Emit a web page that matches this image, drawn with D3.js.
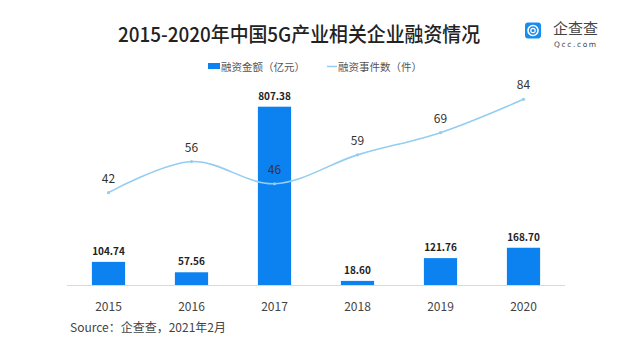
<!DOCTYPE html>
<html><head><meta charset="utf-8">
<script src="https://cdn.jsdelivr.net/npm/d3@7/dist/d3.min.js"></script>
<style>
html,body{margin:0;padding:0;background:#fff;}
svg{display:block;font-family:"Noto Sans CJK SC","Noto Sans",sans-serif;}
</style></head>
<body><svg id="c" width="630" height="340"></svg>
<script>
const years = ["2015","2016","2017","2018","2019","2020"];
const amounts = [104.74, 57.56, 807.38, 18.60, 121.76, 168.70];
const amountLabels = ["104.74","57.56","807.38","18.60","121.76","168.70"];
const events = [42, 56, 46, 59, 69, 84];
const title = "2015-2020年中国5G产业相关企业融资情况";
const legendNames = ["融资金额（亿元）", "融资事件数（件）"];
const source = "Source：企查查，2021年2月";

const svg = d3.select("#c");
const barColor = "#0b82ef", lineColor = "#93cdf1";

const x = d3.scaleBand().domain(years).range([67, 565]).paddingInner(0.6).paddingOuter(0.3);
const yBar = d3.scaleLinear().domain([0, 807.38]).range([285, 106.7]);
const yLine = d3.scaleLinear().domain([0, 84]).range([286, 99.3]);

// title
svg.append("text").attr("x", 118).attr("y", 42).attr("font-size", 20).attr("font-weight", 500)
  .attr("fill", "#222").attr("textLength", 362).attr("lengthAdjust", "spacingAndGlyphs").text(title);

// logo
const lg = svg.append("g");
lg.append("rect").attr("x", 525).attr("y", 22.5).attr("width", 16).attr("height", 16).attr("rx", 3).attr("fill", "#1a8cf0");
lg.append("circle").attr("cx", 533).attr("cy", 30.5).attr("r", 5).attr("fill", "none").attr("stroke", "#fff").attr("stroke-width", 1.6);
lg.append("circle").attr("cx", 533).attr("cy", 30.5).attr("r", 2.2).attr("fill", "none").attr("stroke", "#fff").attr("stroke-width", 1.2);
lg.append("text").attr("x", 553).attr("y", 34).attr("font-size", 15).attr("fill", "#444").text("企查查");
lg.append("text").attr("x", 554).attr("y", 46.5).attr("font-size", 7.5).attr("fill", "#444").attr("letter-spacing", 1.6).attr("font-family", "DejaVu Sans").text("Qcc.com");

// legend
svg.append("rect").attr("x", 208).attr("y", 63).attr("width", 12).attr("height", 6).attr("fill", barColor);
svg.append("text").attr("x", 221).attr("y", 70.5).attr("font-size", 10.5).attr("fill", "#555").text(legendNames[0]);
svg.append("line").attr("x1", 327).attr("x2", 337).attr("y1", 66.5).attr("y2", 66.5).attr("stroke", lineColor).attr("stroke-width", 1.5);
svg.append("text").attr("x", 338).attr("y", 70.5).attr("font-size", 10.5).attr("fill", "#555").text(legendNames[1]);

// axis line
svg.append("line").attr("x1", 67).attr("x2", 565).attr("y1", 285.5).attr("y2", 285.5).attr("stroke", "#d9d9d9").attr("stroke-width", 1);

// bars
const cx = d => x(d) + x.bandwidth() / 2;
svg.selectAll(".bar").data(years).join("rect").attr("class", "bar")
  .attr("x", d => x(d)).attr("width", x.bandwidth())
  .attr("y", (d, i) => yBar(amounts[i])).attr("height", (d, i) => yBar(0) - yBar(amounts[i]))
  .attr("fill", barColor);
svg.selectAll(".blab").data(years).join("text").attr("class", "blab")
  .attr("x", cx).attr("y", (d, i) => yBar(amounts[i]) - 7)
  .attr("text-anchor", "middle").attr("font-size", 10).attr("font-weight", 700).attr("fill", "#222")
  .text((d, i) => amountLabels[i]);

// line
const line = d3.line().x(d => cx(d[0])).y(d => yLine(d[1])).curve(d3.curveCatmullRom.alpha(0.5));
const pts = years.map((y, i) => [y, events[i]]);
svg.append("path").attr("d", line(pts)).attr("fill", "none").attr("stroke", lineColor).attr("stroke-width", 1.6);
svg.selectAll(".pt").data(pts).join("circle").attr("class", "pt")
  .attr("cx", d => cx(d[0])).attr("cy", d => yLine(d[1])).attr("r", 1.6).attr("fill", lineColor);
svg.selectAll(".llab").data(pts).join("text").attr("class", "llab")
  .attr("x", d => cx(d[0])).attr("y", d => yLine(d[1]) - 10)
  .attr("text-anchor", "middle").attr("font-size", 12).attr("fill", "#333")
  .text(d => d[1]);

// x labels
svg.selectAll(".xl").data(years).join("text").attr("class", "xl")
  .attr("x", cx).attr("y", 311).attr("text-anchor", "middle").attr("font-size", 12).attr("fill", "#444")
  .text(d => d);

// source
svg.append("text").attr("x", 70).attr("y", 332).attr("font-size", 12).attr("fill", "#444").text(source);
</script></body></html>
